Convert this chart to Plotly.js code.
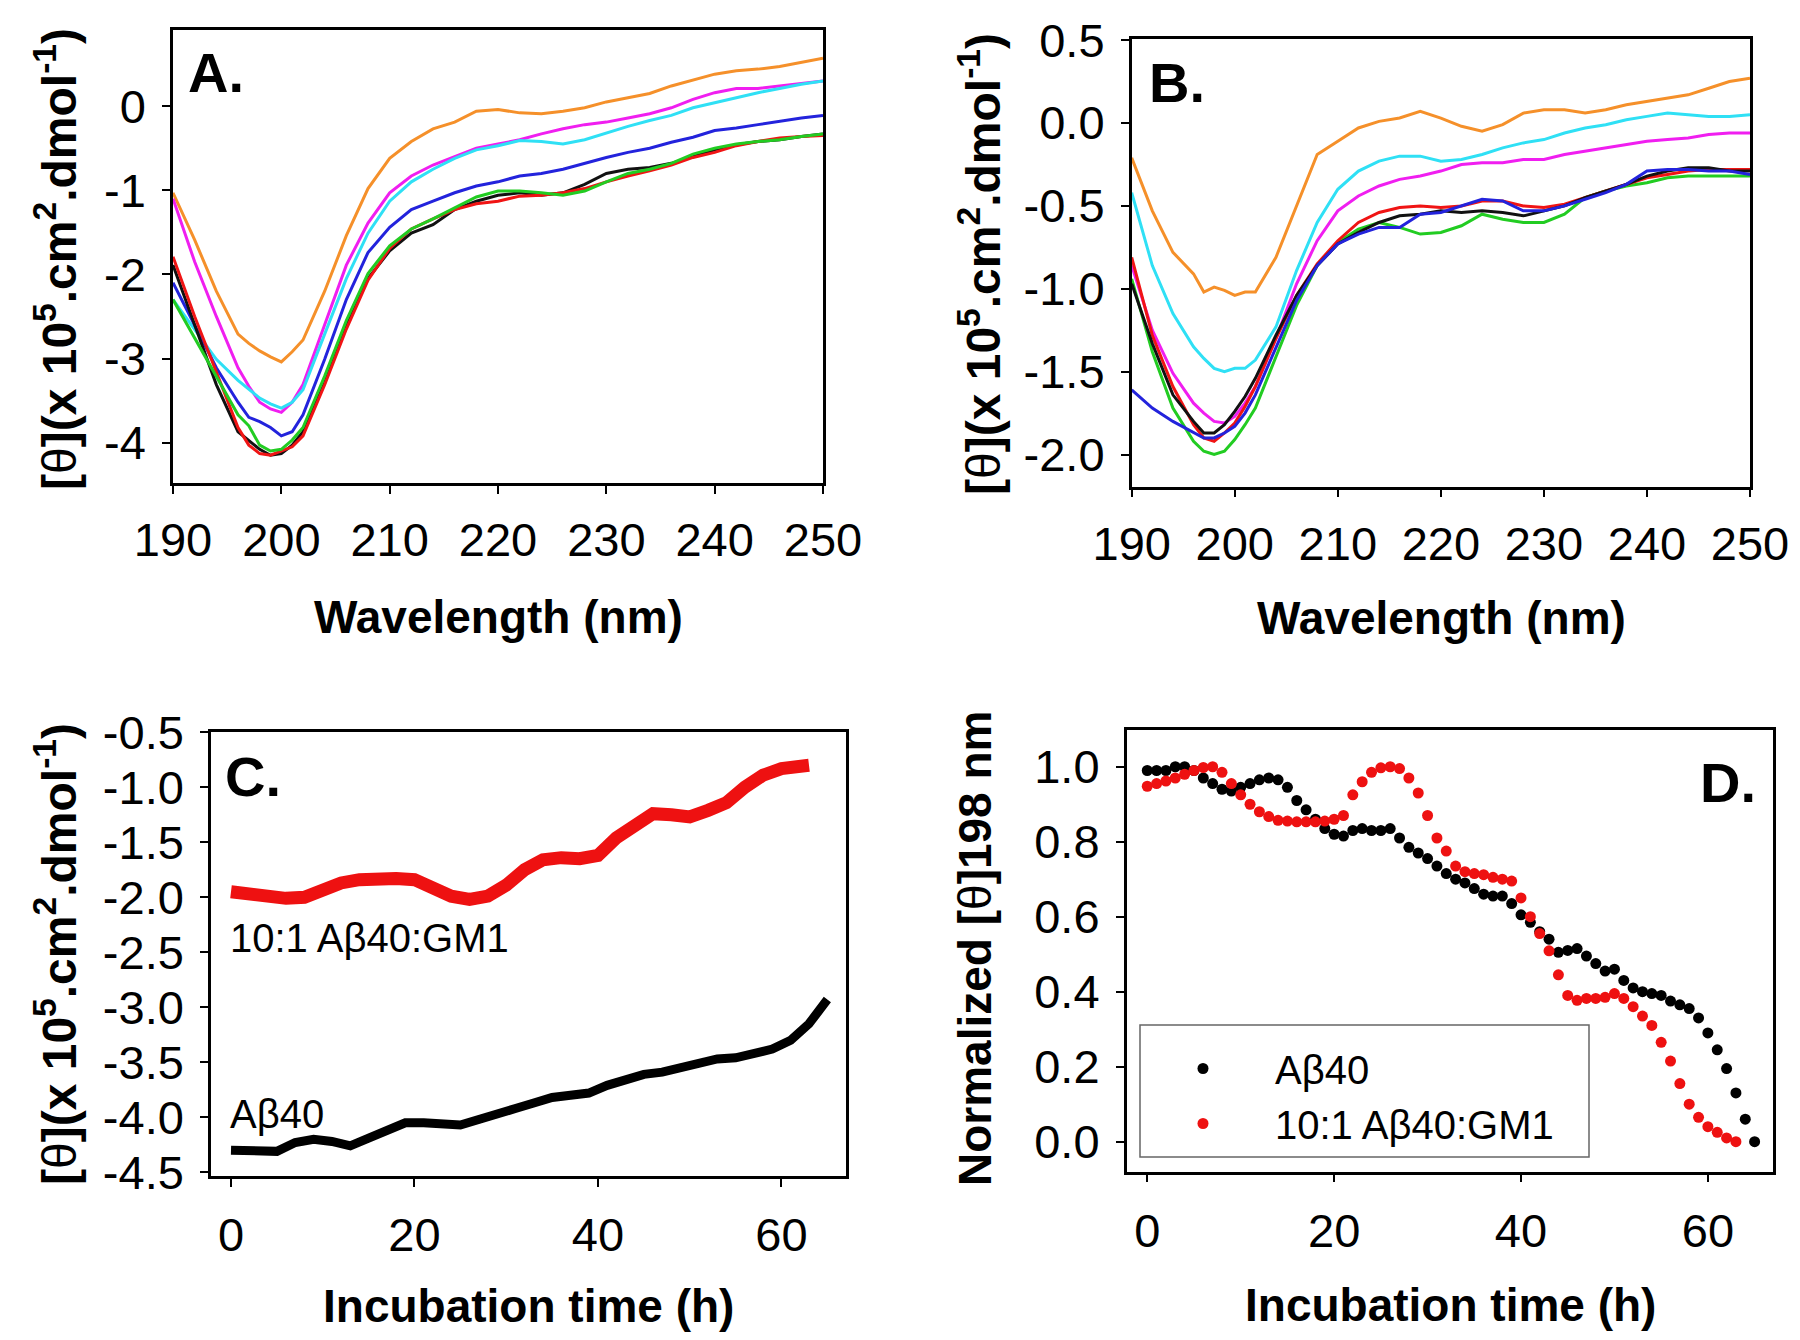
<!DOCTYPE html>
<html>
<head>
<meta charset="utf-8">
<script src="https://cdn.plot.ly/plotly-3.0.1.min.js"></script>
<style>
  html, body { margin: 0; padding: 0; background: #ffffff; }
  #chart { width: 1800px; height: 1340px; }
</style>
</head>
<body>
<div id="chart"></div>
<script>
// ---------------- Data ----------------
// Panels A and B: CD spectra, wavelength in nm
const WAVELENGTH = [190,192,194,196,197,198,199,200,201,202,204,206,208,210,212,214,216,218,220,222,224,226,228,230,232,234,236,238,240,242,244,246,248,250];

const A_ORANGE  = [-1.03,-1.59,-2.20,-2.71,-2.82,-2.91,-2.98,-3.04,-2.92,-2.78,-2.20,-1.54,-0.98,-0.62,-0.42,-0.27,-0.19,-0.06,-0.04,-0.08,-0.09,-0.06,-0.02,0.05,0.10,0.15,0.24,0.31,0.38,0.42,0.44,0.47,0.52,0.57];
const A_MAGENTA = [-1.10,-1.85,-2.50,-3.11,-3.33,-3.52,-3.60,-3.64,-3.52,-3.31,-2.60,-1.89,-1.39,-1.03,-0.83,-0.70,-0.60,-0.50,-0.45,-0.40,-0.33,-0.27,-0.22,-0.19,-0.14,-0.09,-0.02,0.08,0.16,0.21,0.21,0.24,0.27,0.30];
const A_CYAN    = [-2.30,-2.65,-3.01,-3.26,-3.37,-3.47,-3.54,-3.59,-3.52,-3.37,-2.71,-2.05,-1.51,-1.13,-0.90,-0.75,-0.62,-0.52,-0.47,-0.41,-0.42,-0.45,-0.40,-0.32,-0.24,-0.17,-0.11,-0.02,0.04,0.10,0.16,0.21,0.26,0.30];
const A_BLUE    = [-2.10,-2.60,-3.11,-3.52,-3.70,-3.75,-3.82,-3.92,-3.87,-3.67,-3.01,-2.30,-1.74,-1.44,-1.23,-1.13,-1.03,-0.95,-0.90,-0.83,-0.80,-0.75,-0.68,-0.61,-0.55,-0.50,-0.43,-0.37,-0.29,-0.26,-0.22,-0.18,-0.14,-0.11];
const A_GREEN   = [-2.30,-2.76,-3.21,-3.67,-3.80,-4.03,-4.10,-4.08,-3.97,-3.82,-3.21,-2.55,-1.99,-1.66,-1.46,-1.34,-1.21,-1.08,-1.01,-1.01,-1.03,-1.06,-1.01,-0.90,-0.80,-0.75,-0.68,-0.57,-0.50,-0.45,-0.42,-0.40,-0.36,-0.33];
const A_RED     = [-1.79,-2.50,-3.16,-3.82,-4.03,-4.13,-4.15,-4.10,-4.05,-3.92,-3.31,-2.65,-2.07,-1.69,-1.46,-1.34,-1.23,-1.16,-1.13,-1.07,-1.06,-1.03,-0.98,-0.90,-0.83,-0.77,-0.70,-0.61,-0.55,-0.47,-0.42,-0.38,-0.36,-0.35];
const A_BLACK   = [-1.89,-2.60,-3.31,-3.87,-3.97,-4.08,-4.15,-4.13,-4.03,-3.87,-3.29,-2.60,-2.05,-1.72,-1.51,-1.41,-1.23,-1.13,-1.06,-1.03,-1.06,-1.03,-0.93,-0.80,-0.75,-0.73,-0.68,-0.60,-0.52,-0.46,-0.42,-0.40,-0.36,-0.33];

const B_ORANGE  = [-0.21,-0.53,-0.78,-0.91,-1.02,-0.99,-1.01,-1.04,-1.02,-1.02,-0.81,-0.50,-0.19,-0.11,-0.03,0.01,0.03,0.07,0.03,-0.02,-0.05,-0.01,0.06,0.08,0.08,0.06,0.08,0.11,0.13,0.15,0.17,0.21,0.25,0.27];
const B_CYAN    = [-0.42,-0.86,-1.15,-1.35,-1.42,-1.48,-1.50,-1.48,-1.48,-1.43,-1.23,-0.89,-0.60,-0.40,-0.29,-0.23,-0.20,-0.20,-0.23,-0.22,-0.19,-0.15,-0.12,-0.10,-0.06,-0.03,-0.01,0.02,0.04,0.06,0.05,0.04,0.04,0.05];
const B_MAGENTA = [-0.86,-1.25,-1.51,-1.69,-1.75,-1.80,-1.81,-1.77,-1.69,-1.59,-1.30,-0.97,-0.71,-0.53,-0.44,-0.38,-0.34,-0.32,-0.29,-0.25,-0.24,-0.24,-0.22,-0.22,-0.19,-0.17,-0.15,-0.13,-0.11,-0.10,-0.09,-0.07,-0.06,-0.06];
const B_RED     = [-0.81,-1.28,-1.59,-1.82,-1.90,-1.92,-1.87,-1.81,-1.71,-1.59,-1.30,-1.04,-0.85,-0.71,-0.60,-0.54,-0.51,-0.50,-0.51,-0.50,-0.47,-0.47,-0.50,-0.51,-0.49,-0.45,-0.41,-0.37,-0.33,-0.31,-0.29,-0.28,-0.28,-0.28];
const B_BLACK   = [-0.97,-1.33,-1.64,-1.80,-1.87,-1.87,-1.82,-1.74,-1.65,-1.54,-1.28,-1.04,-0.86,-0.73,-0.66,-0.60,-0.56,-0.55,-0.53,-0.54,-0.53,-0.54,-0.56,-0.53,-0.50,-0.45,-0.41,-0.37,-0.32,-0.29,-0.27,-0.27,-0.29,-0.29];
const B_BLUE    = [-1.61,-1.72,-1.80,-1.87,-1.90,-1.90,-1.87,-1.83,-1.75,-1.64,-1.35,-1.07,-0.86,-0.73,-0.67,-0.63,-0.63,-0.55,-0.54,-0.50,-0.46,-0.47,-0.53,-0.53,-0.50,-0.46,-0.42,-0.37,-0.29,-0.28,-0.28,-0.29,-0.29,-0.31];
const B_GREEN   = [-0.94,-1.38,-1.72,-1.92,-1.98,-2.00,-1.98,-1.91,-1.82,-1.72,-1.41,-1.10,-0.86,-0.72,-0.64,-0.60,-0.63,-0.67,-0.66,-0.62,-0.55,-0.58,-0.60,-0.60,-0.55,-0.45,-0.41,-0.38,-0.36,-0.33,-0.32,-0.32,-0.32,-0.32];

// Panel C: [theta] at 198 nm vs incubation time (h)
const C_TIME_AB40 = [0,2,5,7,9,11,13,15,17,19,21,23,25,27,29,31,33,35,37,39,41,43,45,47,49,51,53,55,57,59,61,63,65];
const C_AB40      = [-4.30,-4.31,-4.31,-4.23,-4.20,-4.22,-4.26,-4.19,-4.11,-4.05,-4.05,-4.07,-4.07,-4.02,-3.96,-3.92,-3.87,-3.82,-3.80,-3.78,-3.71,-3.65,-3.61,-3.59,-3.55,-3.51,-3.47,-3.46,-3.42,-3.38,-3.30,-3.15,-2.93];
const C_TIME_GM1  = [0,2,4,6,8,10,12,14,16,18,20,22,24,26,28,30,32,34,36,38,40,42,44,46,48,50,52,54,56,58,60,62,63];
const C_GM1       = [-1.95,-1.97,-1.99,-2.01,-2.00,-1.93,-1.87,-1.84,-1.83,-1.83,-1.84,-1.91,-1.99,-2.02,-1.99,-1.89,-1.75,-1.66,-1.64,-1.65,-1.62,-1.46,-1.35,-1.24,-1.25,-1.27,-1.21,-1.14,-1.00,-0.89,-0.83,-0.81,-0.80];

// Panel D: normalized [theta]198 nm vs incubation time (h)
const D_TIME_AB40 = [0,1,2,3,4,5,6,7,8,9,10,11,12,13,14,15,16,17,18,19,20,21,22,23,24,25,26,27,28,29,30,31,32,33,34,35,36,37,38,39,40,41,42,43,44,45,46,47,48,49,50,51,52,53,54,55,56,57,58,59,60,61,62,63,64,65];
const D_AB40      = [0.99,0.99,0.99,1.00,1.00,0.99,0.97,0.955,0.94,0.935,0.945,0.955,0.965,0.97,0.965,0.945,0.91,0.885,0.86,0.835,0.82,0.815,0.83,0.835,0.83,0.83,0.835,0.81,0.785,0.77,0.755,0.735,0.715,0.70,0.69,0.675,0.66,0.655,0.655,0.635,0.605,0.585,0.56,0.54,0.505,0.51,0.515,0.495,0.475,0.455,0.46,0.43,0.41,0.40,0.395,0.39,0.375,0.365,0.355,0.33,0.29,0.245,0.195,0.13,0.06,0.0];
const D_TIME_GM1  = [0,1,2,3,4,5,6,7,8,9,10,11,12,13,14,15,16,17,18,19,20,21,22,23,24,25,26,27,28,29,30,31,32,33,34,35,36,37,38,39,40,41,42,43,44,45,46,47,48,49,50,51,52,53,54,55,56,57,58,59,60,61,62,63];
const D_GM1       = [0.948,0.955,0.962,0.97,0.98,0.99,0.998,1.0,0.985,0.955,0.925,0.90,0.88,0.867,0.857,0.855,0.853,0.853,0.853,0.855,0.86,0.87,0.925,0.96,0.985,0.997,1.0,0.995,0.97,0.93,0.87,0.81,0.775,0.735,0.72,0.715,0.712,0.705,0.70,0.695,0.65,0.60,0.555,0.509,0.445,0.39,0.377,0.382,0.382,0.385,0.395,0.382,0.36,0.335,0.31,0.265,0.215,0.155,0.10,0.065,0.04,0.025,0.01,0.0];

// Tick values / labels
const WL_TICKS      = [190,200,210,220,230,240,250];
const WL_TICKTEXT   = ['190','200','210','220','230','240','250'];
const A_YTICKS      = [0,-1,-2,-3,-4];
const A_YTICKTEXT   = ['0','-1','-2','-3','-4'];
const B_YTICKS      = [0.5,0,-0.5,-1,-1.5,-2];
const B_YTICKTEXT   = ['0.5','0.0','-0.5','-1.0','-1.5','-2.0'];
const T_TICKS       = [0,20,40,60];
const T_TICKTEXT    = ['0','20','40','60'];
const C_YTICKS      = [-0.5,-1,-1.5,-2,-2.5,-3,-3.5,-4,-4.5];
const C_YTICKTEXT   = ['-0.5','-1.0','-1.5','-2.0','-2.5','-3.0','-3.5','-4.0','-4.5'];
const D_YTICKS      = [0,0.2,0.4,0.6,0.8,1.0];
const D_YTICKTEXT   = ['0.0','0.2','0.4','0.6','0.8','1.0'];

const SERIES_COLORS = {orange:'#f5902a', magenta:'#f01ef0', cyan:'#2fe0f5', blue:'#2323dc', green:'#22cc22', red:'#f01414', black:'#111111'};
const LEGEND_NAMES  = ['Aβ40', '10:1 Aβ40:GM1'];

// ---------------- Figure ----------------
const FONT = 'Liberation Sans, Arial, Helvetica, sans-serif';
const W = 1800, H = 1340;
const px = v => v / W;
const py = v => 1 - v / H;

function spectrum(y, color, xa, ya) {
  return {x: WAVELENGTH, y: y, type: 'scatter', mode: 'lines', xaxis: xa, yaxis: ya,
          line: {color: color, width: 3}, showlegend: false, hoverinfo: 'skip'};
}

const traces = [
  spectrum(A_ORANGE,  SERIES_COLORS.orange,  'x', 'y'),
  spectrum(A_MAGENTA, SERIES_COLORS.magenta, 'x', 'y'),
  spectrum(A_CYAN,    SERIES_COLORS.cyan,    'x', 'y'),
  spectrum(A_BLUE,    SERIES_COLORS.blue,    'x', 'y'),
  spectrum(A_BLACK,   SERIES_COLORS.black,   'x', 'y'),
  spectrum(A_RED,     SERIES_COLORS.red,     'x', 'y'),
  spectrum(A_GREEN,   SERIES_COLORS.green,   'x', 'y'),

  spectrum(B_ORANGE,  SERIES_COLORS.orange,  'x2', 'y2'),
  spectrum(B_CYAN,    SERIES_COLORS.cyan,    'x2', 'y2'),
  spectrum(B_MAGENTA, SERIES_COLORS.magenta, 'x2', 'y2'),
  spectrum(B_GREEN,   SERIES_COLORS.green,   'x2', 'y2'),
  spectrum(B_RED,     SERIES_COLORS.red,     'x2', 'y2'),
  spectrum(B_BLACK,   SERIES_COLORS.black,   'x2', 'y2'),
  spectrum(B_BLUE,    SERIES_COLORS.blue,    'x2', 'y2'),

  {x: C_TIME_GM1, y: C_GM1, type: 'scatter', mode: 'lines', xaxis: 'x3', yaxis: 'y3',
   line: {color: '#ee1111', width: 13}, showlegend: false, hoverinfo: 'skip'},
  {x: C_TIME_AB40, y: C_AB40, type: 'scatter', mode: 'lines', xaxis: 'x3', yaxis: 'y3',
   line: {color: '#000000', width: 9}, showlegend: false, hoverinfo: 'skip'},

  {x: D_TIME_AB40, y: D_AB40, type: 'scatter', mode: 'markers', xaxis: 'x4', yaxis: 'y4',
   name: LEGEND_NAMES[0], marker: {color: '#000000', size: 11}, showlegend: true, hoverinfo: 'skip'},
  {x: D_TIME_GM1, y: D_GM1, type: 'scatter', mode: 'markers', xaxis: 'x4', yaxis: 'y4',
   name: LEGEND_NAMES[1], marker: {color: '#ee1111', size: 11}, showlegend: true, hoverinfo: 'skip'}
];

function axis(domain, range, tickvals, ticktext, standoff) {
  return {
    domain: domain, range: range, autorange: false,
    tickmode: 'array', tickvals: tickvals, ticktext: ticktext,
    ticks: 'outside', ticklen: 8, tickwidth: 2, tickcolor: '#000',
    ticklabelstandoff: standoff,
    showline: true, mirror: true, linecolor: '#000', linewidth: 2.5,
    showgrid: false, zeroline: false, fixedrange: true,
    tickfont: {family: FONT, size: 47, color: '#000'}
  };
}

const TITLE_FONT = {family: FONT, size: 46, color: '#000'};
const THETA_FONT = {family: FONT, size: 48, color: '#000'};
const THETA_TITLE = '<b>[</b>θ<b>](x 10<sup>5</sup>.cm<sup>2</sup>.dmol<sup>-1</sup>)</b>';

function ann(text, x, y, opts) {
  return Object.assign({text: text, x: px(x), y: py(y), xref: 'paper', yref: 'paper',
    showarrow: false, xanchor: 'center', yanchor: 'middle', font: TITLE_FONT}, opts || {});
}

const annotations = [
  // panel letters
  ann('<b>A.</b>', 216, 72, {font: {family: FONT, size: 56, color: '#000'}}),
  ann('<b>B.</b>', 1177, 82, {font: {family: FONT, size: 56, color: '#000'}}),
  ann('<b>C.</b>', 253, 776, {font: {family: FONT, size: 56, color: '#000'}}),
  ann('<b>D.</b>', 1728, 782, {font: {family: FONT, size: 56, color: '#000'}}),
  // x axis titles
  ann('<b>Wavelength (nm)</b>', 498, 617),
  ann('<b>Wavelength (nm)</b>', 1441, 618),
  ann('<b>Incubation time (h)</b>', 528, 1306),
  ann('<b>Incubation time (h)</b>', 1450, 1305),
  // y axis titles
  ann(THETA_TITLE, 56, 259, {textangle: -90, font: THETA_FONT}),
  ann(THETA_TITLE, 980, 264, {textangle: -90, font: THETA_FONT}),
  ann(THETA_TITLE, 56, 954, {textangle: -90, font: THETA_FONT}),
  ann('<b>Normalized [</b>θ<b>]198 nm</b>', 975, 948, {textangle: -90}),
  // panel C series labels
  ann('10:1 Aβ40:GM1', 228, 938, {xanchor: 'left', font: {family: FONT, size: 40, color: '#000'}}),
  ann('Aβ40', 228, 1114, {xanchor: 'left', font: {family: FONT, size: 40, color: '#000'}})
];

const layout = {
  width: W, height: H,
  margin: {l: 0, r: 0, t: 0, b: 0, pad: 0},
  paper_bgcolor: '#ffffff', plot_bgcolor: '#ffffff',
  font: {family: FONT, color: '#000'},
  showlegend: true,
  xaxis:  axis([px(173), px(823)], [190, 250], WL_TICKS, WL_TICKTEXT, 6),
  yaxis:  axis([py(483), py(30)], [-4.48, 0.905], A_YTICKS, A_YTICKTEXT, 7),
  xaxis2: axis([px(1131.7), px(1750)], [190, 250], WL_TICKS, WL_TICKTEXT, 6),
  yaxis2: axis([py(486.7), py(39.3)], [-2.194, 0.505], B_YTICKS, B_YTICKTEXT, 7),
  xaxis3: axis([px(211), px(845.7)], [-2.18, 67.0], T_TICKS, T_TICKTEXT, 8),
  yaxis3: axis([py(1176), py(731.7)], [-4.534, -0.495], C_YTICKS, C_YTICKTEXT, 7),
  xaxis4: axis([px(1126.7), px(1773.3)], [-2.2, 67.0], T_TICKS, T_TICKTEXT, 8),
  yaxis4: axis([py(1171.7), py(730)], [-0.08, 1.098], D_YTICKS, D_YTICKTEXT, 7),
  legend: {
    x: px(1131), y: py(1036), xanchor: 'left', yanchor: 'top',
    xref: 'paper', yref: 'paper',
    bgcolor: 'rgba(0,0,0,0)', borderwidth: 0,
    itemwidth: 134, font: {family: FONT, size: 40, color: '#000'},
    traceorder: 'normal', tracegroupgap: 0
  },
  shapes: [
    {type: 'rect', xref: 'paper', yref: 'paper',
     x0: px(1140), x1: px(1589), y0: py(1157), y1: py(1025),
     line: {color: '#666666', width: 1.5}, fillcolor: 'rgba(0,0,0,0)', layer: 'below'}
  ],
  annotations: annotations
};

layout.xaxis.anchor = 'y';  layout.yaxis.anchor = 'x';
layout.xaxis2.anchor = 'y2'; layout.yaxis2.anchor = 'x2';
layout.xaxis3.anchor = 'y3'; layout.yaxis3.anchor = 'x3';
layout.xaxis4.anchor = 'y4'; layout.yaxis4.anchor = 'x4';

Plotly.newPlot('chart', traces, layout, {displayModeBar: false, responsive: false});
</script>
</body>
</html>
